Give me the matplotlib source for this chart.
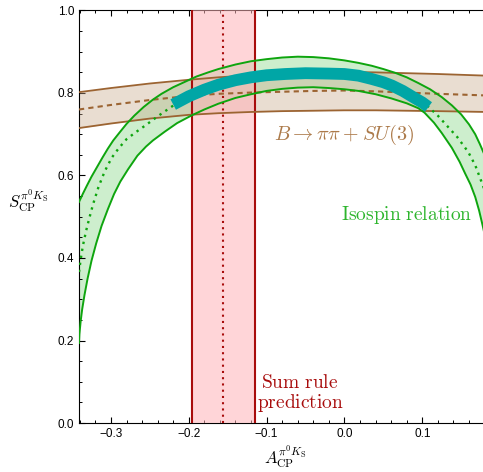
import numpy as np
import matplotlib.pyplot as plt
from matplotlib.ticker import MultipleLocator

plt.rcParams['mathtext.fontset'] = 'cm'
plt.rcParams['font.family'] = 'Liberation Sans'

# Isospin relation band
iso_up_x = [-0.341, -0.336, -0.331, -0.325, -0.318, -0.311, -0.304, -0.297, -0.289, -0.280,
            -0.270, -0.258, -0.246, -0.235, -0.220, -0.205, -0.190, -0.175, -0.162, -0.140,
            -0.120, -0.100, -0.080, -0.060, -0.040, -0.020, 0.000, 0.018, 0.035, 0.050,
            0.065, 0.080, 0.095, 0.110, 0.125, 0.138, 0.150, 0.160, 0.168, 0.174, 0.180]
iso_up_y = [0.536, 0.556, 0.575, 0.597, 0.620, 0.643, 0.665, 0.685, 0.704, 0.725,
            0.745, 0.766, 0.784, 0.798, 0.814, 0.827, 0.840, 0.850, 0.858, 0.869,
            0.877, 0.882, 0.886, 0.888, 0.887, 0.884, 0.879, 0.873, 0.866, 0.858,
            0.849, 0.838, 0.824, 0.809, 0.790, 0.770, 0.748, 0.724, 0.700, 0.676, 0.650]
iso_lo_x = [-0.341, -0.3405, -0.339, -0.337, -0.334, -0.330, -0.325, -0.319, -0.312, -0.304,
            -0.296, -0.288, -0.278, -0.266, -0.255, -0.246, -0.231, -0.215, -0.196, -0.180,
            -0.162, -0.140, -0.120, -0.100, -0.080, -0.060, -0.040, -0.020, 0.000, 0.018,
            0.040, 0.060, 0.080, 0.095, 0.103, 0.115, 0.125, 0.138, 0.148, 0.155, 0.162,
            0.168, 0.173, 0.178, 0.182]
iso_lo_y = [0.194, 0.215, 0.245, 0.275, 0.310, 0.350, 0.393, 0.435, 0.478, 0.518,
            0.555, 0.585, 0.615, 0.648, 0.670, 0.685, 0.706, 0.727, 0.746, 0.760,
            0.774, 0.788, 0.797, 0.805, 0.810, 0.813, 0.814, 0.812, 0.809, 0.805,
            0.797, 0.787, 0.775, 0.763, 0.752, 0.728, 0.703, 0.667, 0.633, 0.605, 0.578,
            0.548, 0.515, 0.475, 0.440]
iso_c_x = [-0.341, -0.339, -0.336, -0.332, -0.328, -0.323, -0.316, -0.308, -0.299, -0.290,
           -0.280, -0.268, -0.256, -0.238, -0.218, -0.200, -0.180, -0.162, -0.140, -0.120,
           -0.100, -0.076, -0.050, -0.020, 0.000, 0.018, 0.035, 0.050, 0.061, 0.075,
           0.090, 0.100, 0.108, 0.120, 0.132, 0.145, 0.159, 0.168, 0.176, 0.182]
iso_c_y = [0.366, 0.395, 0.430, 0.465, 0.495, 0.530, 0.572, 0.610, 0.643, 0.666,
           0.688, 0.705, 0.721, 0.746, 0.772, 0.792, 0.808, 0.820, 0.831, 0.838,
           0.843, 0.846, 0.848, 0.847, 0.846, 0.842, 0.834, 0.826, 0.818, 0.805,
           0.788, 0.777, 0.766, 0.745, 0.720, 0.693, 0.657, 0.625, 0.585, 0.555]

# teal segment along the central isospin curve
teal_x = [-0.220, -0.200, -0.180, -0.162, -0.140, -0.120, -0.100, -0.076, -0.050, -0.020,
          0.000, 0.018, 0.035, 0.050, 0.061, 0.075, 0.090, 0.100, 0.108]
teal_y = [0.772, 0.792, 0.808, 0.820, 0.831, 0.838, 0.843, 0.846, 0.848, 0.847,
          0.846, 0.842, 0.834, 0.826, 0.818, 0.805, 0.788, 0.777, 0.766]

# B -> pi pi + SU(3) band
su3_x = [-0.341, -0.30, -0.25, -0.20, -0.162, -0.12, -0.08, -0.04, 0.0, 0.04, 0.08, 0.12, 0.182]
su3_up = [0.802, 0.812, 0.823, 0.832, 0.838, 0.843, 0.847, 0.850, 0.851, 0.850, 0.848, 0.846, 0.842]
su3_c = [0.760, 0.771, 0.783, 0.793, 0.798, 0.801, 0.803, 0.805, 0.806, 0.804, 0.801, 0.798, 0.794]
su3_lo = [0.715, 0.726, 0.738, 0.747, 0.751, 0.754, 0.756, 0.757, 0.758, 0.758, 0.757, 0.756, 0.754]

# sum rule prediction
sr_lo, sr_c, sr_hi = -0.196, -0.156, -0.1155

green = '#0ea50e'
brown = '#9c6432'
red = '#a80c0c'
teal = '#00a6a6'

fig = plt.figure(figsize=(4.83, 4.72), dpi=100)
ax = fig.add_axes([0.1636, 0.1038, 0.8364, 0.874])

# fills
ax.fill(iso_up_x + iso_lo_x[::-1], iso_up_y + iso_lo_y[::-1], color='#cdeecd', lw=0, zorder=1)
ax.fill_between(su3_x, su3_lo, su3_up, color='#c9aa8c', alpha=0.4, lw=0, zorder=2)
ax.axvspan(sr_lo, sr_hi, color='#ffb3b8', alpha=0.55, lw=0, zorder=3)

# red lines
ax.axvline(sr_lo, color=red, lw=1.5, zorder=4)
ax.axvline(sr_hi, color=red, lw=1.5, zorder=4)
ax.axvline(sr_c, color=red, lw=1.5, ls=(0, (1, 2)), zorder=4)

# brown lines
ax.plot(su3_x, su3_up, color=brown, lw=1.3, zorder=5)
ax.plot(su3_x, su3_lo, color=brown, lw=1.3, zorder=5)
ax.plot(su3_x, su3_c, color=brown, lw=1.5, ls=(0, (2.5, 2)), zorder=5)

# green lines
ax.plot(iso_up_x, iso_up_y, color=green, lw=1.4, zorder=6)
ax.plot(iso_lo_x, iso_lo_y, color=green, lw=1.4, zorder=6)
ax.plot(iso_c_x, iso_c_y, color=green, lw=1.7, ls=(0, (1, 2)), zorder=6)

# teal
ax.plot(teal_x, teal_y, color=teal, lw=8.5, solid_capstyle='butt', zorder=7)

# labels
ax.text(-0.001, 0.699, r'$B \to \pi\pi + SU(3)$', color='#ac7a4a', fontsize=14.5,
        ha='center', va='center', zorder=8)
ax.text(0.080, 0.504, r'$\mathrm{Isospin\ relation}$', color='#2db52d', fontsize=14,
        ha='center', va='center', zorder=8)
ax.text(-0.057, 0.071, '$\\mathrm{Sum\\ rule}$\n$\\mathrm{prediction}$', color=red, fontsize=14,
        ha='center', va='center', linespacing=1.0, zorder=8)

ax.set_xlim(-0.341, 0.178)
ax.set_ylim(0, 1.0)
ax.xaxis.set_major_locator(MultipleLocator(0.1))
ax.xaxis.set_minor_locator(MultipleLocator(0.02))
ax.yaxis.set_major_locator(MultipleLocator(0.2))
ax.yaxis.set_minor_locator(MultipleLocator(0.05))
ax.tick_params(which='both', direction='in', top=True, right=False, labelsize=8.5)
ax.tick_params(which='major', length=4, width=0.8)
ax.tick_params(which='minor', length=2.5, width=0.7)
ax.spines['right'].set_visible(False)

ax.set_xlabel(r'$A_{\rm CP}^{\pi^0 K_{\rm S}}$', fontsize=12)
ax.set_ylabel(r'$S_{\rm CP}^{\pi^0 K_{\rm S}}$', fontsize=12, rotation=0)
ax.yaxis.set_label_coords(-0.125, 0.505)
ax.xaxis.set_label_coords(0.51, -0.05)
ax.xaxis.label.set_va('top')

fig.savefig('out.png', dpi=100)
